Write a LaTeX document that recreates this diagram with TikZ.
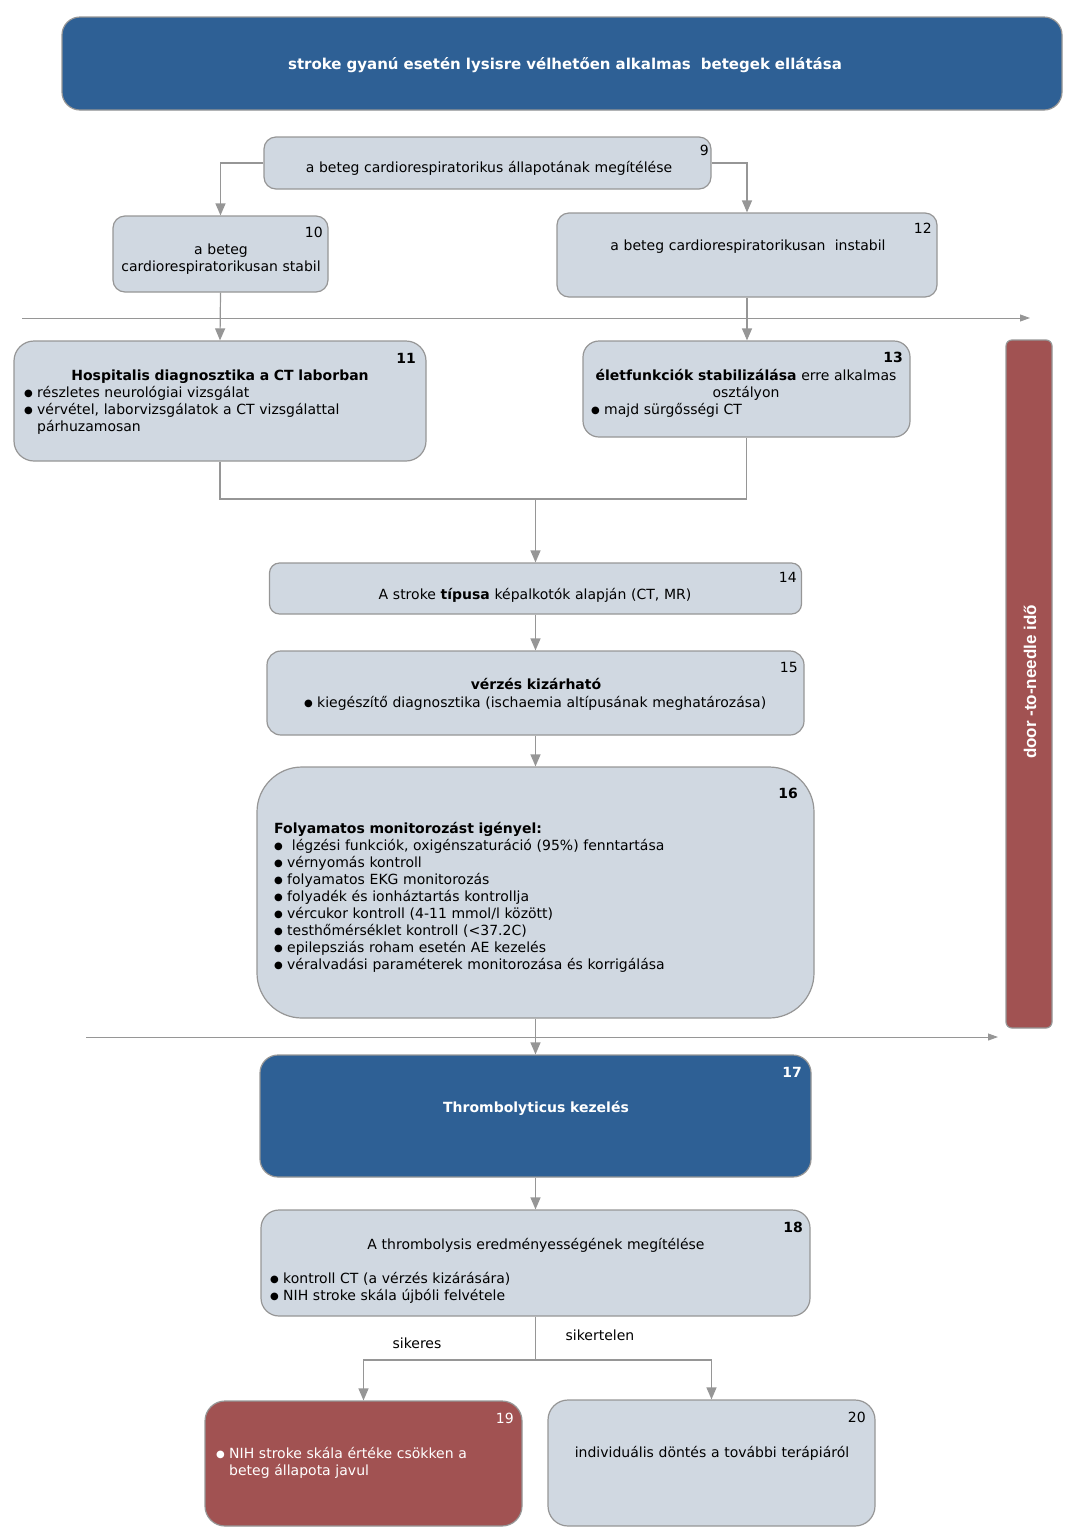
\documentclass[tikz,border=0pt]{standalone}
\usepackage{fontspec}
\setmainfont{DejaVu Sans}
\newfontfamily\arialfont{Liberation Sans}
\usetikzlibrary{arrows.meta}
\definecolor{boxgray}{RGB}{208,216,225}
\definecolor{edgegray}{RGB}{150,150,150}
\definecolor{hdblue}{RGB}{46,96,149}
\definecolor{hdred}{RGB}{161,82,82}
\newcommand{\bodyfont}{\fontsize{14}{17}\selectfont}
\newcommand{\headfont}{\fontsize{14}{17}\selectfont\bfseries}
\newcommand{\bul}{\makebox[13pt][l]{\raisebox{1pt}{\fontsize{10}{10}\selectfont ●}}}

\begin{document}
\begin{tikzpicture}[x=1pt,y=-1pt,>={Triangle[length=12pt,width=10pt]},
  font=\bodyfont,
  box/.style={draw=edgegray,fill=boxgray,rounded corners=12pt,line width=1.2pt,inner sep=0pt},
  bluebox/.style={box,fill=hdblue},
  redbox/.style={box,fill=hdred},
  num/.style={anchor=base east,inner sep=0pt},
  bnum/.style={num,font=\headfont},
  txt/.style={anchor=base,inner sep=0pt,text width=#1,align=center},
  lst/.style={anchor=base west,inner sep=0pt,text width=#1,align=left},
  line/.style={draw=edgegray,line width=1.2pt},
  arr/.style={line,->},
  timeline/.style={draw=edgegray,line width=0.9pt,-{Triangle[length=10pt,width=7pt]}}]
\useasboundingbox (0,0) rectangle (1090,1535);

% header and door-to-needle bar
\node[bluebox,rounded corners=18pt,minimum width=1000pt,minimum height=93pt] (head) at (562,63.5) {};
\node[txt=900pt,text=white,font=\fontsize{15}{17}\selectfont\bfseries] (thead) at (565,69) {stroke gyanú esetén lysisre vélhetően alkalmas \ betegek ellátása};
\node[redbox,rounded corners=6pt,minimum width=46pt,minimum height=688pt] (bar) at (1029,684) {};
\node[rotate=90,text=white,font=\arialfont\fontsize{17}{20}\selectfont\bfseries] (tbar) at (1030,682) {door -to-needle idő};

% boxes
\node[box,minimum width=447pt,minimum height=52pt] (b9) at (487.5,163) {};
\node[box,minimum width=215pt,minimum height=76pt] (b10) at (220.5,254) {};
\node[box,minimum width=380pt,minimum height=84pt] (b12) at (747,255) {};
\node[box,minimum width=412pt,minimum height=120pt,rounded corners=20pt] (b11) at (220,401) {};
\node[box,minimum width=327pt,minimum height=96pt,rounded corners=16pt] (b13) at (746.5,389) {};
\node[box,minimum width=532pt,minimum height=51pt,rounded corners=10pt] (b14) at (535.5,588.5) {};
\node[box,minimum width=537pt,minimum height=84pt,rounded corners=14pt] (b15) at (535.5,693) {};
\node[box,minimum width=557pt,minimum height=251pt,rounded corners=45pt] (b16) at (535.5,892.5) {};
\node[bluebox,minimum width=551pt,minimum height=122pt,rounded corners=18pt] (b17) at (535.5,1116) {};
\node[box,minimum width=549pt,minimum height=106pt,rounded corners=18pt] (b18) at (535.5,1263) {};
\node[redbox,minimum width=317pt,minimum height=125pt,rounded corners=20pt] (b19) at (363.5,1463.5) {};
\node[box,minimum width=327pt,minimum height=126pt,rounded corners=20pt] (b20) at (711.5,1463) {};

% box numbers
\node[num] (n9) at (709,155) {9};
\node[num] (n10) at (323,237) {10};
\node[bnum] (n11) at (416,363) {11};
\node[num] (n12) at (932,233) {12};
\node[bnum] (n13) at (903,362) {13};
\node[num] (n14) at (797,582) {14};
\node[num] (n15) at (798,672) {15};
\node[bnum] (n16) at (798,798) {16};
\node[bnum,text=white] (n17) at (802,1077) {17};
\node[bnum] (n18) at (803,1232) {18};
\node[num,text=white] (n19) at (514,1423) {19};
\node[num] (n20) at (866,1422) {20};

% box texts
\node[txt=440pt] (t9) at (489,172) {a beteg cardiorespiratorikus állapotának megítélése};
\node[txt=210pt] (t10) at (221,254) {a beteg\\cardiorespiratorikusan stabil};
\node[txt=370pt] (t12) at (748,250) {a beteg cardiorespiratorikusan \ instabil};
\node[txt=400pt,font=\headfont] (t11) at (220,380) {Hospitalis diagnosztika a CT laborban};
\node[lst=390pt] (l11) at (24,397) {\bul részletes neurológiai vizsgálat\\
  \bul vérvétel, laborvizsgálatok a CT vizsgálattal\\\hspace*{13pt}párhuzamosan};
\node[txt=320pt] (t13) at (746,380) {\textbf{életfunkciók stabilizálása} erre alkalmas\\osztályon};
\node[lst=300pt] (l13) at (591,414) {\bul majd sürgősségi CT};
\node[txt=520pt] (t14) at (535,599) {A stroke \textbf{típusa} képalkotók alapján (CT, MR)};
\node[txt=520pt,font=\headfont] (t15) at (536,689) {vérzés kizárható};
\node[lst=520pt] (l15) at (304,707) {\bul kiegészítő diagnosztika (ischaemia altípusának meghatározása)};
\node[lst=530pt] (l16) at (274,833) {\textbf{Folyamatos monitorozást igényel:}\\
  \bul\ légzési funkciók, oxigénszaturáció (95\%) fenntartása\\
  \bul vérnyomás kontroll\\
  \bul folyamatos EKG monitorozás\\
  \bul folyadék és ionháztartás kontrollja\\
  \bul vércukor kontroll (4-11 mmol/l között)\\
  \bul testhőmérséklet kontroll (<37.2C)\\
  \bul epilepsziás roham esetén AE kezelés\\
  \bul véralvadási paraméterek monitorozása és korrigálása};
\node[txt=520pt,text=white,font=\headfont] (t17) at (536,1112) {Thrombolyticus kezelés};
\node[txt=520pt] (t18) at (536,1249) {A thrombolysis eredményességének megítélése};
\node[lst=500pt] (l18) at (270,1283) {\bul kontroll CT (a vérzés kizárására)\\
  \bul NIH stroke skála újbóli felvétele};
\node[lst=300pt,text=white] (l19) at (216,1458) {\bul NIH stroke skála értéke csökken a\\\hspace*{13pt}beteg állapota javul};
\node[txt=320pt] (t20) at (712,1457) {individuális döntés a további terápiáról};

% timelines
\coordinate (tla) at (22,318);
\coordinate (tlb) at (1030,318);
\coordinate (tlc) at (86,1037);
\coordinate (tld) at (998,1037);
\draw[timeline] (tla) -- (tlb);
\draw[timeline] (tlc) -- (tld);

% connectors
\coordinate (m1) at (535.5,499);
\coordinate (m2) at (535.5,1360);
\draw[arr] (b9.west) -| (b10.north);
\draw[arr] (b9.east) -| (b12.north);
\draw[arr] (b10.south) -- (b11.north);
\draw[arr] (b12.south) -- (b12.south |- b13.north);
\draw[line] (b11.south) |- (m1) -| (b13.south);
\draw[arr] (m1) -- (b14.north);
\draw[arr] (b14.south) -- (b15.north);
\draw[arr] (b15.south) -- (b16.north);
\draw[arr] (b16.south) -- (b17.north);
\draw[arr] (b17.south) -- (b18.north);
\draw[line] (b18.south) -- (m2);
\draw[arr] (m2) -| (b19.north);
\draw[arr] (m2) -| (b20.north);
\node[inner sep=0pt,anchor=base] (lsik) at (417,1348) {sikeres};
\node[inner sep=0pt,anchor=base] (lsikt) at (600,1340) {sikertelen};
\end{tikzpicture}
\end{document}
